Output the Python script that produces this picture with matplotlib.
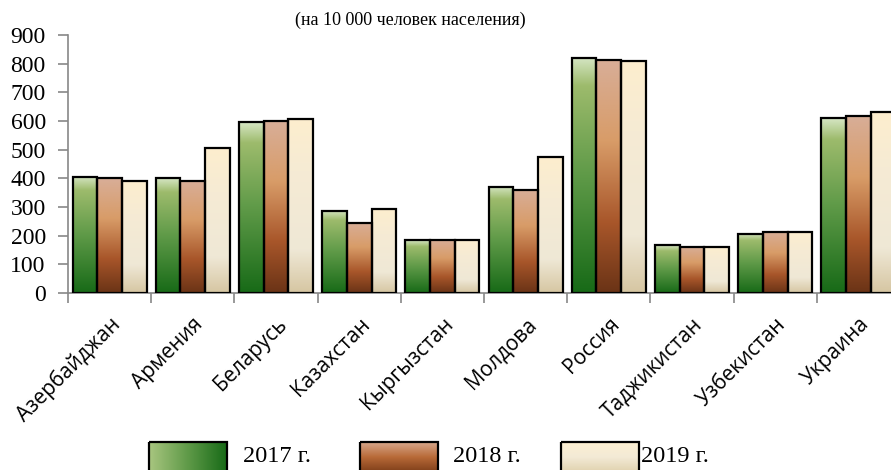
import numpy as np
import matplotlib.pyplot as plt
import matplotlib.transforms as mtrans
from matplotlib.colors import LinearSegmentedColormap
from matplotlib.patches import Rectangle

# данные (на 10 000 человек населения)
countries = ['Азербайджан', 'Армения', 'Беларусь', 'Казахстан', 'Кыргызстан',
             'Молдова', 'Россия', 'Таджикистан', 'Узбекистан', 'Украина']
v2017 = [405, 400, 595, 287, 184, 370, 821, 167, 207, 609]
v2018 = [401, 391, 600, 245, 186, 360, 813, 162, 214, 618]
v2019 = [392, 505, 608, 293, 186, 474, 808, 162, 213, 630]
years = ['2017 г.', '2018 г.', '2019 г.']
yticks = [0, 100, 200, 300, 400, 500, 600, 700, 800, 900]

# градиенты: снизу вверх
cm17 = LinearSegmentedColormap.from_list('g', [(0, '#176a17'), (0.5, '#5f9a48'), (0.88, '#9dbb6c'), (1, '#d6e6c4')])
cm18 = LinearSegmentedColormap.from_list('b', [(0, '#6a3316'), (0.3, '#a8562a'), (0.65, '#d89c68'), (1, '#d8ae98')])
cm19 = LinearSegmentedColormap.from_list('c', [(0, '#d6c6a2'), (0.25, '#efe8d6'), (0.7, '#f6ebd4'), (1, '#fdeece')])
cmaps = [cm17, cm18, cm19]

fig = plt.figure(figsize=(8.91, 4.70), dpi=100)
ax = fig.add_axes([68/891, 1-293/470, 832/891, 258/470])

x = np.arange(len(countries))
w = 0.297
grad = np.linspace(0, 1, 256).reshape(-1, 1)
for i, vals in enumerate([v2017, v2018, v2019]):
    bars = ax.bar(x + (i-1)*w, vals, w, facecolor='none', edgecolor='black', linewidth=1.6, zorder=3)
    for b in bars:
        bx, bw, bh = b.get_x(), b.get_width(), b.get_height()
        ax.imshow(grad, cmap=cmaps[i], origin='lower', aspect='auto',
                  extent=[bx, bx+bw, 0, bh], zorder=2)

ax.set_xlim(-0.5, 9.5)
ax.set_ylim(0, 900)
ax.set_yticks(yticks)
ax.set_yticklabels([str(t) for t in yticks], fontsize=17, family='Liberation Serif')
ax.set_xticks(x)
ax.set_xticklabels(countries, rotation=45, ha='right', rotation_mode='anchor', fontsize=15, family='Open Sans')
shift = mtrans.ScaledTranslation(-5/100, 0, fig.dpi_scale_trans)
for lab in ax.get_xticklabels():
    lab.set_transform(lab.get_transform() + shift)
ax.set_xticks(np.arange(-0.5, 10, 1), minor=True)
ax.tick_params(axis='x', which='major', length=0, pad=15)
ax.tick_params(axis='x', which='minor', length=7, color='#888888', width=1.2)
ax.tick_params(axis='y', length=7, color='#888888', width=1.2, pad=9)
for s in ['top', 'right']:
    ax.spines[s].set_visible(False)
for s in ['left', 'bottom']:
    ax.spines[s].set_color('#888888')
    ax.spines[s].set_linewidth(1.2)

fig.text(410/891, 1-20/470, '(на 10 000 человек населения)', ha='center', va='center',
         fontsize=13, family='Liberation Serif')

# легенда
lax = fig.add_axes([0, 0, 1, 1], zorder=5)
lax.set_xlim(0, 891)
lax.set_ylim(470, 0)
lax.axis('off')
lx = [149, 360, 561]
tx = [243, 453, 641]
hgrad = np.linspace(0, 1, 256).reshape(1, -1)
leg17 = LinearSegmentedColormap.from_list('lg', ['#a9c680', '#5f9a48', '#176a17'])
leg18 = LinearSegmentedColormap.from_list('lb', ['#7e3e1a', '#b86a38', '#d8a88c'])
leg19 = LinearSegmentedColormap.from_list('lc', ['#e0d2ae', '#f3ead6', '#fdf0d2'])
lax.imshow(hgrad, cmap=leg17, aspect='auto', extent=[lx[0], lx[0]+78, 472, 442])
lax.imshow(grad, cmap=leg18, aspect='auto', origin='lower', extent=[lx[1], lx[1]+78, 472, 442])
lax.imshow(grad, cmap=leg19, aspect='auto', origin='lower', extent=[lx[2], lx[2]+78, 472, 442])
for i in range(3):
    lax.add_patch(Rectangle((lx[i], 442), 78, 30, facecolor='none', edgecolor='black', linewidth=1.6))
    lax.text(tx[i], 457, years[i], va='center', ha='left', fontsize=17.5, family='Liberation Serif')
lax.set_xlim(0, 891)
lax.set_ylim(470, 0)

fig.savefig('out.png', dpi=100)
